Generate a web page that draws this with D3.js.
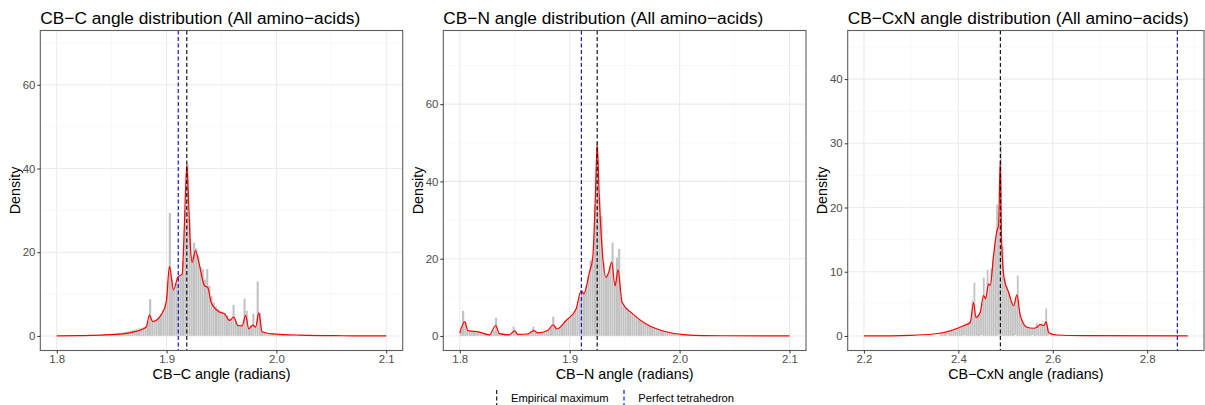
<!DOCTYPE html>
<html>
<head>
<meta charset="utf-8">
<script src="https://cdn.jsdelivr.net/npm/d3@7/dist/d3.min.js"></script>
<style>
    body { margin: 0; background: #fff; }
    svg text { font-family: "Liberation Sans", Arial, Helvetica, sans-serif; }
    .grid-major { stroke: #ebebeb; stroke-width: 1.1; }
    .grid-minor { stroke: #f3f3f3; stroke-width: 0.6; }
    .axis .domain { display: none; }
    .axis line { stroke: #333; }
    .axis text { fill: #4d4d4d; font-size: 11.4px; }
    .bar { fill: #c2c2c2; stroke: #fff; stroke-width: 0.12; }
    .density { fill: none; stroke: #ff0000; stroke-width: 1.2; }
    .vline { stroke-width: 1.1; stroke-dasharray: 4, 2.5; }
    .frame { fill: none; stroke: #5e5e5e; stroke-width: 1.1; }
</style>
</head>
<body>
<div id="container"></div>
<script>

var titles = [
    'CB\u2212C angle distribution (All amino\u2212acids)',
    'CB\u2212N angle distribution (All amino\u2212acids)',
    'CB\u2212CxN angle distribution (All amino\u2212acids)'
];

var xTitles = ['CB\u2212C angle (radians)', 'CB\u2212N angle (radians)', 'CB\u2212CxN angle (radians)'];

var legendLabels = ['Empirical maximum', 'Perfect tetrahedron'];

// x / y ranges of the data in each panel
var xRanges = [[1.8, 2.1], [1.8, 2.1], [2.2, 2.886]];
var yMaxes = [69.5, 75.3, 45.3];

var xTickValues = [[1.8, 1.9, 2.0, 2.1], [1.8, 1.9, 2.0, 2.1], [2.2, 2.4, 2.6, 2.8]];
var yTickValues = [[0, 20, 40, 60], [0, 20, 40, 60], [0, 10, 20, 30, 40]];

// reference lines
var empiricalMax = [1.9184, 1.925, 2.489];
var tetrahedron = [1.9106, 1.9106, 2.8638];

// histograms: first bin start, bin width, densities
var histStart = [1.84, 1.80, 2.36];
var histWidth = [0.002, 0.002, 0.004];

var cHist = [
    0.3, 0.3, 0.4, 0.4, 0.5, 0.5, 0.6, 0.6, 0.7, 0.8,
    0.9, 1.0, 1.1, 1.2, 1.4, 1.5, 1.6, 1.8, 1.9, 2.1,
    2.4, 3.5, 8.8, 3.6, 3.7, 4.1, 4.6, 5.2, 6.0, 7.5,
    13.0, 29.4, 13.5, 11.0, 12.5, 14.0, 14.6, 18.0, 30.0, 41.0,
    28.0, 19.0, 22.3, 21.0, 19.0, 16.5, 16.0, 13.5, 16.0, 12.0,
    9.5, 8.0, 7.0, 6.5, 6.0, 5.8, 5.5, 5.0, 4.2, 4.0,
    7.4, 3.5, 2.7, 2.6, 2.8, 8.9, 6.0, 2.0, 2.5, 5.3,
    2.3, 13.0, 5.5, 1.2, 0.9, 0.7, 0.6, 0.5, 0.5, 0.4,
    0.4, 0.3, 0.3, 0.3, 0.2, 0.2, 0.2, 0.2, 0.2, 0.1
];

var nHist = [
    1.5, 6.5, 3.5, 1.6, 1.2, 1.1, 1.1, 1.0, 1.0, 0.9,
    0.8, 0.6, 0.5, 0.4, 0.6, 1.5, 4.7, 1.2, 0.6, 0.4,
    0.4, 0.3, 0.4, 0.6, 2.4, 1.0, 0.4, 0.4, 0.5, 0.5,
    0.6, 0.6, 0.9, 2.4, 1.0, 0.8, 0.9, 1.0, 1.1, 1.3,
    1.6, 2.3, 5.0, 2.5, 2.0, 2.4, 2.9, 3.4, 4.0, 4.6,
    5.1, 5.7, 6.5, 7.8, 10.0, 11.8, 11.5, 13.0, 15.5, 19.5,
    20.3, 34.0, 50.0, 36.0, 31.1, 19.0, 15.5, 16.0, 18.0, 24.2,
    14.0, 20.3, 22.5, 10.0, 8.0, 7.2, 6.6, 6.0, 5.6, 5.1,
    4.7, 4.3, 3.9, 3.5, 3.2, 2.9, 2.6, 2.3, 2.1, 1.9,
    1.6, 1.4, 1.3, 1.1, 1.0, 0.8, 0.7, 0.6, 0.5, 0.45,
    0.4, 0.35, 0.3, 0.3, 0.25, 0.2, 0.2, 0.15, 0.15, 0.1
];

var cxnHist = [
    0.3, 0.35, 0.4, 0.5, 0.6, 0.7, 0.8, 0.9, 1.0, 1.1,
    1.3, 1.4, 1.6, 1.7, 1.9, 2.1, 2.6, 5.5, 8.3, 3.0,
    3.3, 3.8, 5.0, 9.1, 6.0, 10.3, 8.0, 10.5, 12.0, 14.5,
    20.5, 17.5, 30.1, 14.0, 9.0, 7.8, 7.0, 6.2, 5.3, 4.8,
    6.0, 9.4, 3.8, 2.8, 2.2, 1.7, 1.4, 1.3, 1.2, 1.2,
    1.3, 2.0, 1.5, 1.8, 1.9, 1.7, 4.3, 1.2, 0.5, 0.35,
    0.25, 0.2, 0.15, 0.12, 0.1, 0.1, 0.08, 0.06, 0.05, 0.05
];

// density curves
var cDensX = [1.8, 1.82, 1.84, 1.86, 1.869, 1.8814, 1.8844, 1.8874, 1.898, 1.9,
    1.9026, 1.9063, 1.9102, 1.9142, 1.9163, 1.9184, 1.9202, 1.9218, 1.9233, 1.9263,
    1.93, 1.9345, 1.9375, 1.9406, 1.9482, 1.9527, 1.9572, 1.9612, 1.9648, 1.9688,
    1.9719, 1.9749, 1.9785, 1.981, 1.984, 1.987, 1.9968, 2.021, 2.06, 2.1];
var cDensY = [0.02, 0.08, 0.2, 0.5, 0.9, 2.1, 5.0, 3.4, 6.5, 8.8,
    16.6, 11.0, 14.0, 14.8, 27.2, 40.9, 31.1, 20.8, 17.6, 20.4,
    16.8, 12.0, 11.6, 8.0, 5.7, 5.3, 3.7, 4.5, 2.5, 2.4,
    4.9, 1.7, 2.6, 2.1, 5.5, 1.0, 0.5, 0.2, 0.05, 0.0];

var nDensX = [1.8, 1.8045, 1.8073, 1.818, 1.827, 1.8327, 1.836, 1.845, 1.85, 1.8527,
    1.8618, 1.8673, 1.871, 1.88, 1.8849, 1.8882, 1.8967, 1.9058, 1.9104, 1.9128,
    1.918, 1.921, 1.9231, 1.925, 1.927, 1.9295, 1.9331, 1.9355, 1.9382, 1.9413,
    1.944, 1.9476, 1.9573, 1.9695, 1.9876, 2.0058, 2.04, 2.1];
var nDensY = [0.8, 3.7, 1.4, 1.0, 0.3, 2.7, 0.6, 0.3, 1.3, 0.4,
    0.5, 1.4, 0.8, 1.4, 2.9, 1.8, 4.0, 7.0, 11.7, 10.9,
    16.5, 20.3, 33.7, 49.4, 35.4, 22.5, 15.2, 16.5, 19.1, 13.0,
    17.1, 8.7, 5.7, 3.1, 1.1, 0.3, 0.05, 0.0];

var cxnDensX = [2.2, 2.298, 2.3475, 2.3828, 2.411, 2.4252, 2.4322, 2.4373, 2.4464, 2.4534,
    2.4576, 2.464, 2.4676, 2.4746, 2.4818, 2.4852, 2.4888, 2.4915, 2.4972, 2.5064,
    2.517, 2.5242, 2.5311, 2.5453, 2.5593, 2.5665, 2.5735, 2.5805, 2.5862, 2.5911,
    2.6089, 2.6653, 2.886];
var cxnDensY = [0.0, 0.1, 0.3, 0.8, 1.6, 2.1, 5.2, 2.9, 3.7, 6.3,
    5.8, 8.1, 7.9, 12.5, 16.4, 17.2, 27.3, 15.1, 8.9, 6.8,
    4.7, 6.4, 3.2, 1.35, 1.2, 1.35, 1.8, 1.6, 2.2, 0.55,
    0.15, 0.05, 0.0];

var hists = [cHist, nHist, cxnHist];
var densX = [cDensX, nDensX, cxnDensX];
var densY = [cDensY, nDensY, cxnDensY];

var width = 1205,
    height = 405,
    plotTop = 30.5,
    plotBottom = 350.5,
    lefts = [40.3, 443.3, 847.7],
    rights = [402.7, 806, 1204];

var svg = d3.select('#container').append('svg')
    .attr('width', width)
    .attr('height', height);

var expand = function(range) {
    var pad = (range[1] - range[0]) * 0.05;
    return [range[0] - pad, range[1] + pad];
};

// minor breaks sit halfway between the major ones
var minors = function(ticks, domain) {
    var step = ticks[1] - ticks[0];
    var out = [];
    for (var v = ticks[0] - step / 2; v <= domain[1] + 1e-9; v += step) {
        if (v >= domain[0]) {
            out.push(v);
        }
    }
    return out;
};

var plot = function(i) {

    var x = d3.scaleLinear().domain(expand(xRanges[i])).range([lefts[i], rights[i]]);
    var y = d3.scaleLinear().domain(expand([0, yMaxes[i]])).range([plotBottom, plotTop]);

    var g = svg.append('g').attr('class', 'panel');

    /**
     * grid
     */
    var xMinor = minors(xTickValues[i], x.domain());
    var yMinor = minors(yTickValues[i], y.domain());

    g.selectAll('.gx-minor').data(xMinor).enter().append('line')
        .attr('class', 'grid-minor')
        .attr('x1', function(d) { return x(d); }).attr('x2', function(d) { return x(d); })
        .attr('y1', plotTop).attr('y2', plotBottom);

    g.selectAll('.gy-minor').data(yMinor).enter().append('line')
        .attr('class', 'grid-minor')
        .attr('y1', function(d) { return y(d); }).attr('y2', function(d) { return y(d); })
        .attr('x1', lefts[i]).attr('x2', rights[i]);

    g.selectAll('.gx-major').data(xTickValues[i]).enter().append('line')
        .attr('class', 'grid-major')
        .attr('x1', function(d) { return x(d); }).attr('x2', function(d) { return x(d); })
        .attr('y1', plotTop).attr('y2', plotBottom);

    g.selectAll('.gy-major').data(yTickValues[i]).enter().append('line')
        .attr('class', 'grid-major')
        .attr('y1', function(d) { return y(d); }).attr('y2', function(d) { return y(d); })
        .attr('x1', lefts[i]).attr('x2', rights[i]);

    /**
     * histogram
     */
    g.selectAll('.bar').data(hists[i]).enter().append('rect')
        .attr('class', 'bar')
        .attr('x', function(d, k) { return x(histStart[i] + k * histWidth[i]); })
        .attr('width', function(d, k) {
            return x(histStart[i] + (k + 1) * histWidth[i]) - x(histStart[i] + k * histWidth[i]);
        })
        .attr('y', function(d) { return y(d); })
        .attr('height', function(d) { return y(0) - y(d); });

    /**
     * density
     */
    var pts = densX[i].map(function(v, k) { return [v, densY[i][k]]; });

    var line = d3.line()
        .x(function(d) { return x(d[0]); })
        .y(function(d) { return y(d[1]); })
        .curve(d3.curveMonotoneX);

    g.append('path')
        .datum(pts)
        .attr('class', 'density')
        .attr('d', line);

    /**
     * reference lines
     */
    g.append('line')
        .attr('class', 'vline')
        .attr('stroke', '#0000cd')
        .attr('x1', x(tetrahedron[i])).attr('x2', x(tetrahedron[i]))
        .attr('y1', plotTop).attr('y2', plotBottom);

    g.append('line')
        .attr('class', 'vline')
        .attr('stroke', '#000')
        .attr('x1', x(empiricalMax[i])).attr('x2', x(empiricalMax[i]))
        .attr('y1', plotTop).attr('y2', plotBottom);

    g.append('rect')
        .attr('class', 'frame')
        .attr('x', lefts[i]).attr('y', plotTop)
        .attr('width', rights[i] - lefts[i])
        .attr('height', plotBottom - plotTop);

    /**
     * axes
     */
    g.append('g')
        .attr('class', 'axis axis--x')
        .attr('transform', 'translate(0,' + plotBottom + ')')
        .call(d3.axisBottom(x).tickValues(xTickValues[i]).tickSize(3).tickPadding(1.5)
            .tickFormat(d3.format('.1f')));

    g.append('g')
        .attr('class', 'axis axis--y')
        .attr('transform', 'translate(' + lefts[i] + ',0)')
        .call(d3.axisLeft(y).tickValues(yTickValues[i]).tickSize(3).tickPadding(2));

    /**
     * titles
     */
    g.append('text')
        .attr('x', lefts[i])
        .attr('y', 24)
        .style('font-size', '17.3px')
        .text(titles[i]);

    g.append('text')
        .attr('x', (lefts[i] + rights[i]) / 2)
        .attr('y', 378.5)
        .attr('text-anchor', 'middle')
        .style('font-size', '14.3px')
        .text(xTitles[i]);

    g.append('text')
        .attr('transform', 'translate(' + (lefts[i] - 20.5) + ',' + ((plotTop + plotBottom) / 2) + ') rotate(-90)')
        .attr('text-anchor', 'middle')
        .style('font-size', '14.3px')
        .text('Density');
};

for (var p = 0; p < 3; p++) {
    plot(p);
}

// shared legend
var legendColours = ['#000', '#0000cd'];
var legendX = [496.7, 624];

var key = svg.append('g').attr('class', 'legend');

legendLabels.forEach(function(label, k) {
    key.append('line')
        .attr('class', 'vline')
        .attr('stroke', legendColours[k])
        .attr('stroke-dasharray', '3,2')
        .attr('x1', legendX[k]).attr('x2', legendX[k])
        .attr('y1', 390).attr('y2', 405);
    key.append('text')
        .attr('x', legendX[k] + 14.3)
        .attr('y', 401.5)
        .style('font-size', '11.2px')
        .text(label);
});

</script>
</body>
</html>
